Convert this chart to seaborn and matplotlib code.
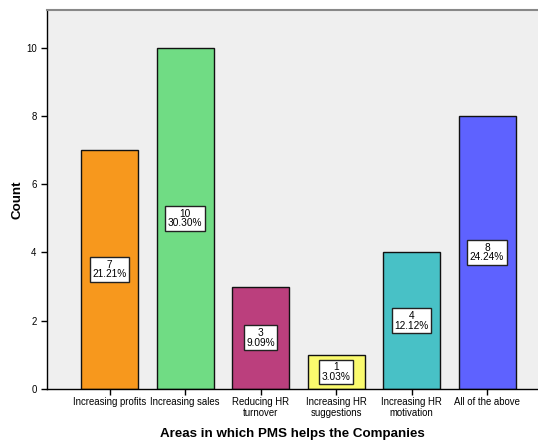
import matplotlib
matplotlib.use("Agg")
import matplotlib.pyplot as plt
import seaborn as sns
import pandas as pd

categories = ["Increasing profits", "Increasing sales", "Reducing HR\nturnover",
              "Increasing HR\nsuggestions", "Increasing HR\nmotivation", "All of the above"]
counts = [7, 10, 3, 1, 4, 8]
percents = ["21.21%", "30.30%", "9.09%", "3.03%", "12.12%", "24.24%"]
colors = ["#F7981D", "#70DC84", "#BB3F7D", "#FAFA6E", "#48C1C6", "#5E62FF"]
yticks = [0, 2, 4, 6, 8, 10]

sns.set_style("white")
plt.rcParams["font.family"] = ["Liberation Sans", "DejaVu Sans"]
plt.rcParams.update({"text.color": "black", "axes.labelcolor": "black",
                     "xtick.color": "black", "ytick.color": "black"})

df = pd.DataFrame({"area": categories, "count": counts})

fig = plt.figure(figsize=(5.38, 4.42), dpi=100)
ax = fig.add_axes([0.0874, 0.12, 0.9126, 0.857])
ax.set_facecolor("#EFEFEF")

sns.barplot(data=df, x="area", y="count", hue="area", palette=colors,
            width=0.755, edgecolor="#111111", linewidth=1.0, legend=False,
            saturation=1, ax=ax)

for i, (c, p) in enumerate(zip(counts, percents)):
    ax.text(i, c / 2, f"{c}\n{p}", ha="center", va="center", fontsize=7.3,
            linespacing=0.95,
            bbox=dict(boxstyle="square,pad=0.25", fc="white", ec="#222222", lw=1.0))

ax.set_xlim(-0.83, 5.675)
ax.set_ylim(0, 11.1)
ax.set_yticks(yticks)
ax.set_xlabel("Areas in which PMS helps the Companies", fontsize=9.6, fontweight="bold", labelpad=7)
ax.set_ylabel("Count", fontsize=9.6, fontweight="bold", labelpad=2)
ax.tick_params(axis="both", which="both", direction="out", length=4, width=1,
               color="black", labelsize=6.9, bottom=True, left=True)
ax.tick_params(axis="x", pad=1.5)

for side in ["left", "bottom"]:
    ax.spines[side].set_color("black")
    ax.spines[side].set_linewidth(1.0)
ax.spines["right"].set_visible(False)
ax.spines["top"].set_color("#888888")
ax.spines["top"].set_linewidth(1.5)

fig.savefig("out.png", dpi=100, facecolor="white")
